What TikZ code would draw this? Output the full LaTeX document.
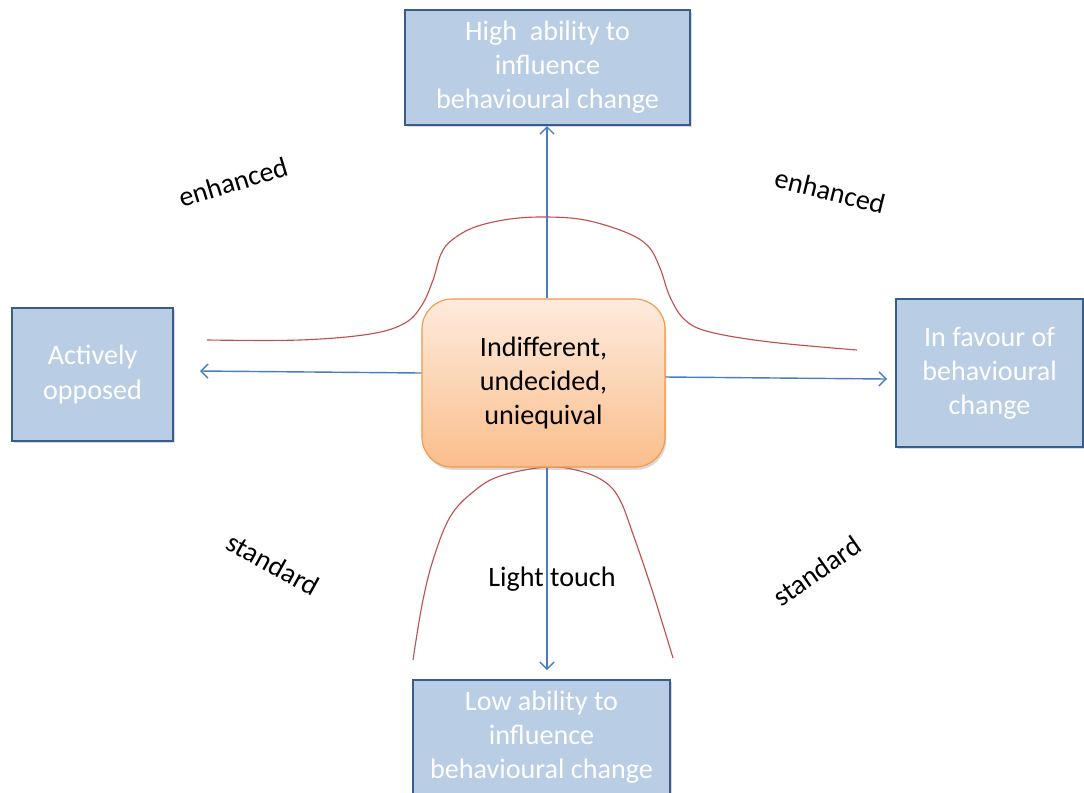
\documentclass[tikz,border=0pt]{standalone}
\usepackage{fontspec}
\setmainfont{Carlito}
\usetikzlibrary{arrows.meta,shadows}

\definecolor{boxfill}{HTML}{B9CDE5}
\definecolor{boxline}{HTML}{385D8A}
\definecolor{arrowblue}{HTML}{4A7EBB}
\definecolor{curvered}{HTML}{C0504D}
\definecolor{peachtop}{HTML}{FDEBDD}
\definecolor{peachbottom}{HTML}{FBBE8C}
\definecolor{peachline}{HTML}{F79646}

\tikzset{
    txt/.style={font=\fontsize{20}{24.2}\selectfont, align=center},
    stance/.style={txt, draw=boxline, line width=1pt, fill=boxfill, text=white,
        inner sep=0pt, drop shadow={opacity=0.3, shadow xshift=1.5pt, shadow yshift=-1.5pt}},
    middle/.style={txt, draw=peachline, line width=0.8pt, rounded corners=0.75cm,
        top color=peachtop, bottom color=peachbottom, inner sep=0pt,
        drop shadow={opacity=0.3, shadow xshift=1pt, shadow yshift=-2pt}},
    flow/.style={draw=arrowblue, line width=1pt, -{Straight Barb[length=5pt,width=10pt]}},
    curve/.style={draw=curvered, line width=0.8pt},
    tag/.style={txt, text=black}
}

\begin{document}
\begin{tikzpicture}[x=0.025cm, y=-0.025cm]
    \useasboundingbox (0, 0) rectangle (1084, 792);
    \clip (0, 0) rectangle (1084, 792);

    % Red curves behind everything
    \draw[curve] plot[smooth, tension=0.6] coordinates {
        (207, 340) (300, 340) (370, 334) (405, 323) (422, 305) (433, 280)
        (441, 254) (452, 240) (475, 227) (510, 219) (547, 217) (585, 220)
        (625, 232) (648, 246) (660, 268) (670, 297) (685, 320) (710, 332)
        (770, 342) (857, 350)
    };
    \draw[curve] plot[smooth, tension=0.6] coordinates {
        (413, 660) (422, 605) (433, 560) (450, 517) (473, 492) (500, 476)
        (547, 467) (580, 471) (605, 482) (620, 500) (634, 537) (653, 593)
        (673, 658)
    };

    % The four stances round the middle
    \node[stance, minimum width=7.125cm, minimum height=2.875cm] (high) at (547.5, 67.5)
        {High\ \ ability to\\influence\\behavioural change};
    \node[stance, minimum width=4.025cm, minimum height=3.325cm] (opposed) at (92.5, 374.5)
        {Actively\\opposed};
    \node[stance, minimum width=4.675cm, minimum height=3.7cm] (favour) at (989.5, 373)
        {In favour of\\behavioural\\change};
    \node[stance, minimum width=6.425cm, minimum height=2.875cm] (low) at (541.5, 737.5)
        {Low ability to\\influence\\behavioural change};

    % Middle box
    \node[middle, minimum width=6.075cm, minimum height=4.2cm] (centre) at (543.5, 383)
        {Indifferent,\\undecided,\\uniequival};

    % Arrows out of the middle box
    \coordinate (hightip) at (547, 126);
    \coordinate (lowtip) at (547, 670);
    \coordinate (lefttip) at (200, 371);
    \coordinate (righttip) at (887, 379);
    \draw[flow] (hightip |- centre.north) -- (hightip);
    \draw[flow] (lowtip |- centre.south) -- (lowtip);
    \draw[flow] (centre.west |- 0, 373) -- (lefttip);
    \draw[flow] (centre.east |- 0, 377) -- (righttip);

    % Labels
    \node[tag, rotate=17] (enhleft) at (233, 182) {enhanced};
    \node[tag, rotate=-14] (enhright) at (830, 191) {enhanced};
    \node[tag, rotate=-29] (stdleft) at (273, 564) {standard};
    \node[tag, rotate=35] (stdright) at (817, 571) {standard};
    \node[tag] (light) at (552, 579) {Light touch};
\end{tikzpicture}
\end{document}
